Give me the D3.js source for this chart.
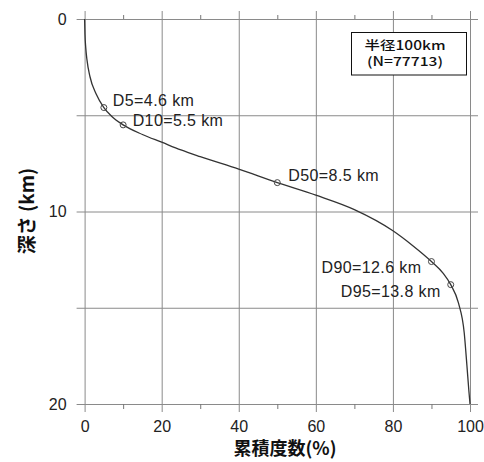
<!DOCTYPE html>
<html>
<head>
<meta charset="utf-8">
<script src="https://cdn.jsdelivr.net/npm/d3@7"></script>
<style>
  body { margin: 0; background: #fff; }
  svg { display: block; }
</style>
</head>
<body>
<div class="depth-plot"></div>
<script>
// cumulative frequency (%) vs depth (km)
const cumPct = [0, 0.1, 0.3, 0.6, 1.4, 3, 5, 7, 10, 15, 20, 25, 30, 40, 50, 60, 70, 80, 85, 90, 93, 95, 97, 98.5, 99.2, 99.7, 100];
const depthKm = [0, 0.8, 1.5, 2.1, 3.0, 3.9, 4.6, 5.05, 5.5, 6.0, 6.4, 6.8, 7.15, 7.8, 8.5, 9.15, 9.9, 11.0, 11.75, 12.6, 13.2, 13.8, 14.75, 16.3, 18.0, 19.3, 20];

// percentile markers
const markNames = ["D5", "D10", "D50", "D90", "D95"];
const markPct = [5, 10, 50, 90, 95];
const markDepth = [4.6, 5.5, 8.5, 12.6, 13.8];

const xTicks = [0, 20, 40, 60, 80, 100];
const xMinor = [10, 30, 50, 70, 90];
const yTicks = [0, 5, 10, 15, 20];
const yLabels = [0, 10, 20];

const boxLines = ["半径100km", "(N=77713)"];
const xTitle = "累積度数(%)";
const yTitle = "深さ (km)";

function create_plot() {
	const width = 484;
	const height = 462;
	const left = 84.6, right = 470, top = 19, bottom = 404;
	const svg = d3.select('.depth-plot')
		.append('svg')
		.attr('width', width)
		.attr('height', height)

	const x = d3.scaleLinear().domain([0, 100]).range([left, right]);
	const y = d3.scaleLinear().domain([0, 20]).range([top, bottom]);

	// vertical grid + x labels
	const gx = svg.append("g")
		.attr("transform", `translate(0,${bottom + 8})`)
		.call(d3.axisBottom(x).tickValues(xTicks).tickSize(-(bottom - top + 16)).tickPadding(9))
	gx.select(".domain").remove()
	gx.selectAll("line").attr("stroke", "#8a8a8a")
	gx.selectAll("text").attr("font-family", "'Liberation Sans', Arial, sans-serif").attr("font-size", "16px").attr("fill", "#222")

	// horizontal grid + y labels
	const gy = svg.append("g")
		.attr("transform", `translate(${left - 8},0)`)
		.call(d3.axisLeft(y).tickValues(yTicks).tickSize(-(right - left + 16)).tickPadding(10)
			.tickFormat(function(d) { return yLabels.includes(d) ? d : ""; }))
	gy.select(".domain").remove()
	gy.selectAll("line").attr("stroke", "#8a8a8a")
	gy.selectAll("text").attr("font-family", "'Liberation Sans', Arial, sans-serif").attr("font-size", "16px").attr("fill", "#222")

	// minor ticks top / bottom
	const mt = svg.append("g")
		.attr("transform", `translate(0,${top})`)
		.call(d3.axisTop(x).tickValues(xMinor).tickSize(4).tickFormat(""))
	mt.select(".domain").remove()
	mt.selectAll("line").attr("stroke", "#777")
	const mb = svg.append("g")
		.attr("transform", `translate(0,${bottom})`)
		.call(d3.axisBottom(x).tickValues(xMinor).tickSize(5).tickFormat(""))
	mb.select(".domain").remove()
	mb.selectAll("line").attr("stroke", "#777")

	// curve
	const line = d3.line()
		.x(function(d, i) { return x(cumPct[i]); })
		.y(function(d) { return y(d); })
		.curve(d3.curveMonotoneX)
	svg.append("path")
		.datum(depthKm)
		.attr("d", line)
		.attr("fill", "none")
		.attr("stroke", "#333")
		.attr("stroke-width", 1.3)

	// markers
	svg.selectAll("circle.mark")
		.data(markNames)
		.enter()
		.append("circle")
		.attr("class", "mark")
		.attr("cx", function(d, i) { return x(markPct[i]); })
		.attr("cy", function(d, i) { return y(markDepth[i]); })
		.attr("r", 3)
		.attr("fill", "none")
		.attr("stroke", "#444")
		.attr("stroke-width", 1)

	// label offsets: [dx, dy, anchor]
	const offs = [[9, -1.5, "start"], [9.5, 1, "start"], [11, -1.5, "start"], [-10, 11.7, "end"], [-10, 12, "end"]];
	svg.selectAll("text.mark")
		.data(markNames)
		.enter()
		.append("text")
		.attr("class", "mark")
		.attr("x", function(d, i) { return x(markPct[i]) + offs[i][0]; })
		.attr("y", function(d, i) { return y(markDepth[i]) + offs[i][1]; })
		.attr("text-anchor", function(d, i) { return offs[i][2]; })
		.text(function(d, i) { return `${d}=${markDepth[i].toFixed(1)} km`; })
		.attr("font-family", "'Liberation Sans', Arial, sans-serif")
		.attr("font-size", "16px")
		.attr("letter-spacing", "0.4px")
		.attr("fill", "#222")

	// legend box
	svg.append("rect")
		.attr("x", 351.5).attr("y", 32.5)
		.attr("width", 115).attr("height", 42.5)
		.attr("fill", "#fff")
		.attr("stroke", "#111")
		.attr("stroke-width", 1)
	svg.selectAll("text.box")
		.data(boxLines)
		.enter()
		.append("text")
		.attr("class", "box")
		.attr("x", 405)
		.attr("y", function(d, i) { return 49.5 + i * 16; })
		.attr("text-anchor", "middle")
		.attr("font-family", "'Noto Sans CJK JP', sans-serif")
		.attr("font-size", "12.5px")
		.attr("font-weight", "500")
		.attr("textLength", function(d, i) { return i == 0 ? 81 : 76; })
		.attr("lengthAdjust", "spacingAndGlyphs")
		.attr("fill", "#111")
		.text(function(d) { return d; })

	// axis titles
	svg.append("text")
		.attr("x", 285).attr("y", 455)
		.attr("text-anchor", "middle")
		.attr("font-family", "'Noto Sans CJK JP', sans-serif")
		.attr("font-size", "18px")
		.attr("font-weight", "bold")
		.attr("fill", "#111")
		.text(xTitle)
	svg.append("text")
		.attr("transform", "translate(34,211) rotate(-90)")
		.attr("text-anchor", "middle")
		.attr("font-family", "'Noto Sans CJK JP', sans-serif")
		.attr("font-size", "19px")
		.attr("font-weight", "bold")
		.attr("fill", "#111")
		.text(yTitle)
}

create_plot();
</script>
</body>
</html>
